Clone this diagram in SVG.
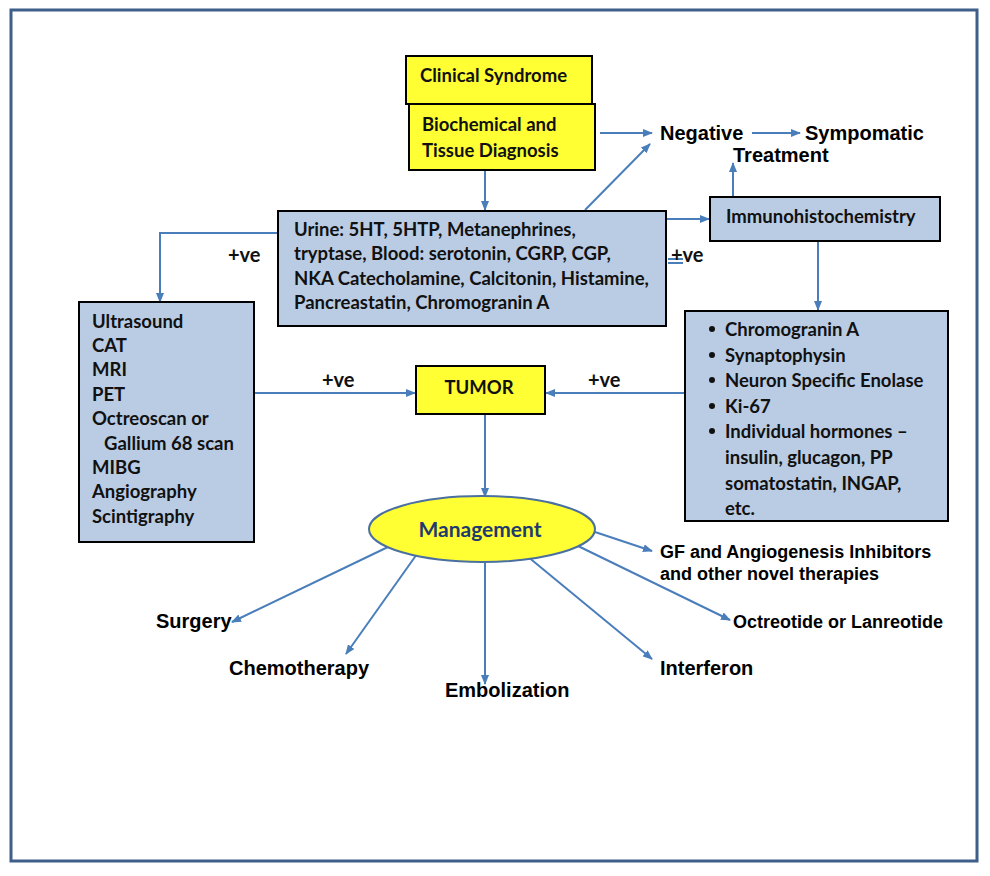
<svg xmlns="http://www.w3.org/2000/svg" width="990" height="876" viewBox="0 0 990 876">
<defs>
<marker id="ah" markerWidth="10" markerHeight="8" refX="9" refY="4" orient="auto" markerUnits="userSpaceOnUse">
<path d="M0,0 L10,4 L0,8 Z" fill="#4a7ebb"/>
</marker>
<style>
.box{stroke:#000;stroke-width:2}
.yel{fill:#ffff33}
.blu{fill:#b9cce4}
.c{font-family:Lato,"Open Sans","Liberation Sans",sans-serif;font-weight:bold;font-size:18.5px;fill:#111}
.a{font-family:"Liberation Sans",Arial,sans-serif;font-weight:bold;fill:#000}
.l{stroke:#4a7ebb;stroke-width:2;fill:none}
.la{stroke:#4a7ebb;stroke-width:2;fill:none;marker-end:url(#ah)}
</style>
</defs>
<rect width="990" height="876" fill="#fff"/>
<rect x="11" y="10" width="966" height="851" fill="none" stroke="#3d5f8a" stroke-width="3"/>

<g id="connectors">
<line class="la" x1="600" y1="133" x2="652" y2="133"/>
<line class="la" x1="485" y1="170" x2="485" y2="210"/>
<line class="la" x1="585" y1="210" x2="650" y2="144"/>
<line class="la" x1="752" y1="133" x2="800" y2="133"/>
<line class="la" x1="733" y1="196" x2="733" y2="163"/>
<line class="la" x1="666" y1="219" x2="709" y2="219"/>
<line class="la" x1="818" y1="241" x2="818" y2="310"/>
<polyline class="la" points="278,233 160,233 160,302"/>
<line class="la" x1="254" y1="393" x2="415" y2="393"/>
<line class="la" x1="685" y1="393" x2="546" y2="393"/>
<line class="la" x1="485" y1="414" x2="485" y2="497"/>
<line class="la" x1="390" y1="546" x2="232" y2="622"/>
<line class="la" x1="417" y1="554" x2="346" y2="654"/>
<line class="la" x1="485" y1="563" x2="485" y2="684"/>
<line class="la" x1="527" y1="556" x2="652" y2="659"/>
<line class="la" x1="578" y1="546" x2="730" y2="620"/>
<line class="la" x1="595" y1="532" x2="652" y2="551"/>
<line class="l" x1="668" y1="259" x2="683" y2="259" stroke-width="1.5"/>
<line class="l" x1="668" y1="263" x2="683" y2="263" stroke-width="1.5"/>
</g>

<g id="clinical">
<rect class="box yel" x="406" y="56" width="186" height="48"/>
<text class="c" x="420" y="82">Clinical Syndrome</text>
</g>
<g id="biochemical">
<rect class="box yel" x="409" y="104" width="186" height="66"/>
<text class="c" x="422" y="131">Biochemical and</text>
<text class="c" x="422" y="157">Tissue Diagnosis</text>
</g>
<g id="urine">
<rect class="box blu" x="278" y="211" width="388" height="115"/>
<text class="c" x="294" y="236">Urine: 5HT, 5HTP, Metanephrines,</text>
<text class="c" x="294" y="260">tryptase, Blood: serotonin, CGRP, CGP,</text>
<text class="c" x="294" y="285">NKA Catecholamine, Calcitonin, Histamine,</text>
<text class="c" x="294" y="309">Pancreastatin, Chromogranin A</text>
</g>
<g id="immuno">
<rect class="box blu" x="710" y="197" width="230" height="44"/>
<text class="c" x="726" y="223">Immunohistochemistry</text>
</g>
<g id="imaging">
<rect class="box blu" x="79" y="302" width="175" height="240"/>
<text class="c" x="92" y="328">Ultrasound</text>
<text class="c" x="92" y="352">CAT</text>
<text class="c" x="92" y="376">MRI</text>
<text class="c" x="92" y="401">PET</text>
<text class="c" x="92" y="425">Octreoscan or</text>
<text class="c" x="104" y="450">Gallium 68 scan</text>
<text class="c" x="92" y="474">MIBG</text>
<text class="c" x="92" y="498">Angiography</text>
<text class="c" x="92" y="523">Scintigraphy</text>
</g>
<g id="markers">
<rect class="box blu" x="685" y="311" width="263" height="210"/>
<g fill="#111">
<circle cx="712" cy="329" r="3"/>
<circle cx="712" cy="355" r="3"/>
<circle cx="712" cy="380" r="3"/>
<circle cx="712" cy="406" r="3"/>
<circle cx="712" cy="431" r="3"/>
</g>
<text class="c" x="725" y="336">Chromogranin A</text>
<text class="c" x="725" y="362">Synaptophysin</text>
<text class="c" x="725" y="387">Neuron Specific Enolase</text>
<text class="c" x="725" y="413">Ki-67</text>
<text class="c" x="725" y="438">Individual hormones –</text>
<text class="c" x="725" y="464">insulin, glucagon, PP</text>
<text class="c" x="725" y="490">somatostatin, INGAP,</text>
<text class="c" x="725" y="515">etc.</text>
</g>
<g id="tumor">
<rect class="box yel" x="416" y="366" width="129" height="48"/>
<text class="c" x="479" y="394" text-anchor="middle">TUMOR</text>
</g>
<g id="management">
<ellipse cx="482" cy="529" rx="113" ry="33" fill="#ffff33" stroke="#4a6fa0" stroke-width="2"/>
<text class="c" x="480" y="537" text-anchor="middle" style="fill:#1f3a6e;font-size:21px">Management</text>
</g>

<g id="labels">
<text class="a" x="660" y="140" font-size="20">Negative</text>
<text class="a" x="805" y="140" font-size="20">Sympomatic</text>
<text class="a" x="733" y="162" font-size="20">Treatment</text>
<text class="c" x="228" y="262" style="font-size:20px">+ve</text>
<text class="c" x="671" y="262" style="font-size:20px">+ve</text>
<text class="c" x="322" y="387" style="font-size:20px">+ve</text>
<text class="c" x="588" y="387" style="font-size:20px">+ve</text>
<text class="a" x="660" y="558" font-size="18">GF and Angiogenesis Inhibitors</text>
<text class="a" x="660" y="580" font-size="18">and other novel therapies</text>
<text class="a" x="733" y="628" font-size="18">Octreotide or Lanreotide</text>
<text class="a" x="156" y="628" font-size="20">Surgery</text>
<text class="a" x="229" y="675" font-size="20">Chemotherapy</text>
<text class="a" x="445" y="697" font-size="20">Embolization</text>
<text class="a" x="660" y="675" font-size="20">Interferon</text>
</g>
</svg>
